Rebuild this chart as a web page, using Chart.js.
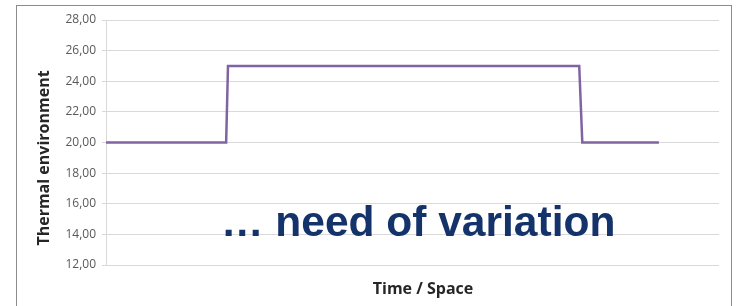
<!DOCTYPE html>
<html>
<head>
<meta charset="utf-8">
<script src="https://cdn.jsdelivr.net/npm/chart.js@4/dist/chart.umd.min.js"></script>
<style>
  html, body { margin: 0; padding: 0; background: #fff; }
  #wrap { position: relative; width: 736px; height: 306px; overflow: hidden; }
  #frame { position: absolute; left: 16px; top: 5px; width: 716px; height: 320px; border: 1px solid #8c8c8c; box-sizing: border-box; }
  #chart { position: absolute; left: 0; top: 0; }
  #note { position: absolute; left: 221px; top: 201px; font: bold 42.5px "Liberation Sans", Arial, sans-serif; line-height: 42px; color: #15336b; white-space: nowrap; }
</style>
</head>
<body>
<div id="wrap">
  <div id="frame"></div>
  <canvas id="chart" width="736" height="306"></canvas>
  <div id="note">… need of variation</div>
</div>
<script>
  // tid/rum längs x, värde på y
  const tider = [0, 19.6, 19.9, 77.2, 77.7, 90.2];
  const termisk = [20, 20, 25, 25, 20, 20];
  const yEtiketter = ["12,00", "14,00", "16,00", "18,00", "20,00", "22,00", "24,00", "26,00", "28,00"];
  const yTitel = 'Thermal environment';
  const xTitel = 'Time / Space';

  const punkter = tider.map((t, i) => ({ x: t, y: termisk[i] }));

  // axeltitlarna ritas själv så att de hamnar som i originalet
  const titelPlugin = {
    id: 'titlar',
    afterDraw(chart) {
      const c = chart.ctx;
      c.save();
      c.font = 'bold 16px "Open Sans"';
      c.fillStyle = '#262626';
      c.textAlign = 'center';
      c.textBaseline = 'middle';
      c.fillText(xTitel, 423, 289);
      c.translate(44, 158);
      c.rotate(-Math.PI / 2);
      c.fillText(yTitel, 0, 0);
      c.restore();
    }
  };

  const ctx = document.getElementById("chart").getContext("2d");
  new Chart(ctx, {
    type: 'line',
    data: {
      datasets: [{
        label: yTitel,
        data: punkter,
        borderColor: '#8064a2',
        borderWidth: 2.5,
        pointRadius: 0,
        fill: false,
        tension: 0
      }]
    },
    options: {
      responsive: false,
      animation: false,
      layout: { padding: { top: 20, right: 17, bottom: 0, left: 0 } },
      plugins: { legend: { display: false }, tooltip: { enabled: false } },
      scales: {
        x: {
          type: 'linear',
          min: 0,
          max: 100,
          grid: { display: false },
          border: { display: false },
          ticks: { display: false },
          afterFit: s => { s.height = 41; }
        },
        y: {
          min: 12,
          max: 28,
          ticks: {
            stepSize: 2,
            color: '#595959',
            padding: 6,
            font: { family: 'Open Sans', size: 12 },
            callback: (v) => yEtiketter[(v - 12) / 2]
          },
          grid: { color: '#d9d9d9', lineWidth: 1, tickLength: 4 },
          border: { display: true, color: '#d9d9d9' },
          afterFit: s => { s.width = 106; }
        }
      }
    },
    plugins: [titelPlugin]
  });
</script>
</body>
</html>
